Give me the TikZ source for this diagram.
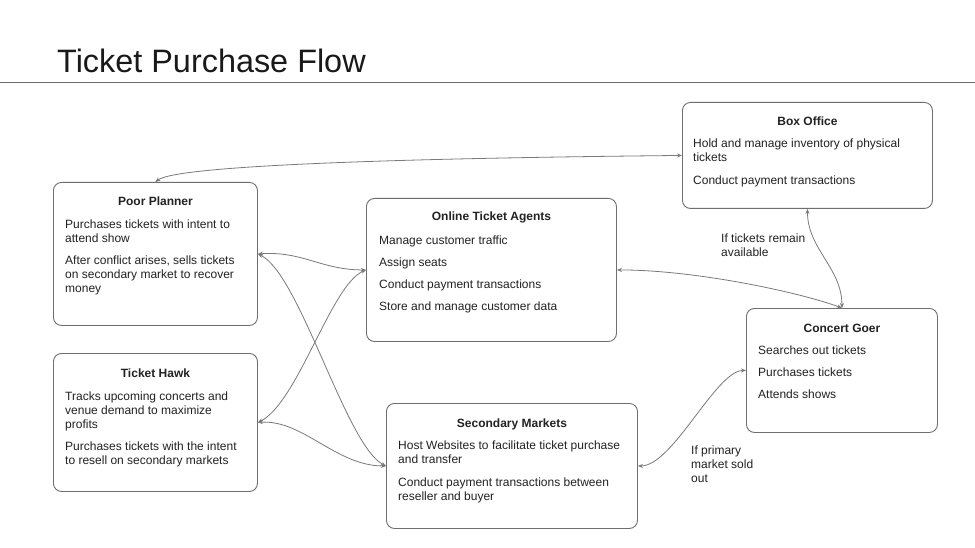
\documentclass[tikz,border=0pt]{standalone}
\usepackage{fontspec}
\setmainfont{Liberation Sans}
\usetikzlibrary{arrows.meta,calc}
\definecolor{boxline}{HTML}{6E6E6E}
\definecolor{linkgray}{HTML}{7A7A7A}
\definecolor{txt}{HTML}{222222}
\newcommand\fl{\rule{0pt}{10pt}}
\begin{document}
\begin{tikzpicture}[x=1pt,y=-1pt,
  card/.style={draw=boxline, line width=0.9pt, rounded corners=8pt, inner sep=0pt, anchor=north west, fill=white},
  cardtitle/.style={anchor=base, inner sep=0pt, text=txt, font=\fontsize{12}{14}\selectfont\bfseries},
  cardbody/.style={anchor=north west, inner sep=0pt, align=left, text=txt, font=\fontsize{12}{14}\selectfont},
  lbl/.style={anchor=north west, inner sep=0pt, align=left, text=txt, font=\fontsize{12}{14}\selectfont},
  link/.style={draw=linkgray, line width=0.8pt, {Stealth[length=5pt,width=4pt]}-{Stealth[length=5pt,width=4pt]}}
]
\fill[white] (0,0) rectangle (975,548);
\useasboundingbox (0,0) rectangle (975,548);

% title and rule
\node[anchor=base west, inner sep=0pt, text=black!90, font=\fontsize{32.4}{36}\selectfont] (title) at (57,73) {Ticket Purchase Flow};
\coordinate (ruleL) at (0,82);
\coordinate (ruleR) at (975,82);
\draw[boxline, line width=0.9pt] (ruleL) -- (ruleR);

% boxes
\node[card, minimum width=204pt, minimum height=143pt] (pp) at (53,182) {};
\node[card, minimum width=204pt, minimum height=138pt] (th) at (53,353) {};
\node[card, minimum width=250pt, minimum height=143pt] (ota) at (366,198) {};
\node[card, minimum width=251pt, minimum height=125pt] (sm) at (386,403) {};
\node[card, minimum width=250pt, minimum height=106pt] (bo) at (682,102) {};
\node[card, minimum width=191pt, minimum height=124pt] (cg) at (746,308) {};

% titles
\node[cardtitle] (ppT) at ($(pp.north)+(0,24)$) {Poor Planner};
\node[cardtitle] (thT) at ($(th.north)+(0,24)$) {Ticket Hawk};
\node[cardtitle] (otaT) at ($(ota.north)+(0,23)$) {Online Ticket Agents};
\node[cardtitle] (smT) at ($(sm.north)+(0,24)$) {Secondary Markets};
\node[cardtitle] (boT) at ($(bo.north)+(0,24)$) {Box Office};
\node[cardtitle] (cgT) at ($(cg.north)+(0,24)$) {Concert Goer};

% bodies
\node[cardbody] (ppB) at ($(pp.north west)+(12,36)$) {\fl Purchases tickets with intent to\\attend show\\[8.5pt]After conflict arises, sells tickets\\on secondary market to recover\\money};
\node[cardbody] (thB) at ($(th.north west)+(12,37)$) {\fl Tracks upcoming concerts and\\venue demand to maximize\\profits\\[8.5pt]Purchases tickets with the intent\\to resell on secondary markets};
\node[cardbody] (otaB) at ($(ota.north west)+(13,36)$) {\fl Manage customer traffic\\[8pt]Assign seats\\[8pt]Conduct payment transactions\\[8pt]Store and manage customer data};
\node[cardbody] (smB) at ($(sm.north west)+(12,36)$) {\fl Host Websites to facilitate ticket purchase\\and transfer\\[9pt]Conduct payment transactions between\\reseller and buyer};
\node[cardbody] (boB) at ($(bo.north west)+(11,35)$) {\fl Hold and manage inventory of physical\\tickets\\[9pt]Conduct payment transactions};
\node[cardbody] (cgB) at ($(cg.north west)+(12,36)$) {\fl Searches out tickets\\[8pt]Purchases tickets\\[8pt]Attends shows};

% labels
\node[lbl] (lblA) at (721,232) {\fl If tickets remain\\available};
\node[lbl] (lblB) at (691,444) {\fl If primary\\market sold\\out};

% connectors
\draw[link] (pp.north) .. controls +(20,-16) and +(-300,3) .. (bo.west);
\draw[link] (pp.east) .. controls +(45,-3) and +(-45,0) .. (ota.west);
\draw[link] (pp.east) .. controls +(42,20) and +(-40,-20) .. (sm.west);
\draw[link] (th.east) .. controls +(40,-20) and +(-35,15) .. (ota.west);
\draw[link] (th.east) .. controls +(45,-3) and +(-50,0) .. (sm.west);
\draw[link] (bo.south) .. controls +(0,40) and +(0,-40) .. (cg.north);
\draw[link] (ota.east) .. controls +(80,0) and +(-40,-15) .. (cg.north);
\draw[link] (cg.west) .. controls +(-30,0) and +(35,0) .. (sm.east);
\end{tikzpicture}
\end{document}
